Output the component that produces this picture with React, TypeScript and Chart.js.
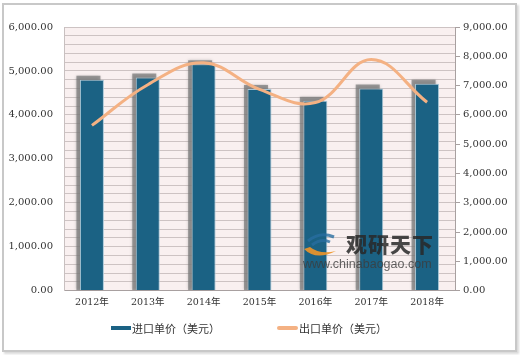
import React, { useEffect, useRef } from "react";
import { Chart, registerables } from "chart.js";

Chart.register(...registerables);

const categories = ["2012年", "2013年", "2014年", "2015年", "2016年", "2017年", "2018年"];
const importPrice = [4800, 4850, 5150, 4590, 4320, 4600, 4710];
const exportPrice = [5640, 7030, 7780, 6870, 6420, 7890, 6430];
const importLabel = "进口单价（美元）";
const exportLabel = "出口单价（美元）";

const BAR_COLOR = "#1B6284";
const LINE_COLOR = "#F4B183";

const fmt = (v: number) =>
  v.toLocaleString("en-US", { minimumFractionDigits: 2, maximumFractionDigits: 2 });

const TICK_FONT = "'DejaVu Serif', 'Noto Sans CJK SC', serif";

export default function App() {
  const ref = useRef<HTMLCanvasElement | null>(null);

  useEffect(() => {
    document.body.style.margin = "0";
    const canvas = ref.current!;
    const bgPlugin = {
      id: "plotBg",
      beforeDraw(chart: any) {
        const { ctx, chartArea } = chart;
        ctx.save();
        ctx.fillStyle = "#F9F0F0";
        ctx.fillRect(chartArea.left, chartArea.top, chartArea.right - chartArea.left, chartArea.bottom - chartArea.top);
        ctx.restore();
      },
    };
    const shadowPlugin = {
      id: "barShadow",
      beforeDatasetsDraw(chart: any) {
        const { ctx, chartArea } = chart;
        const meta = chart.getDatasetMeta(0);
        ctx.save();
        ctx.beginPath();
        ctx.rect(chartArea.left, chartArea.top, chartArea.right - chartArea.left, chartArea.bottom - chartArea.top);
        ctx.clip();
        ctx.fillStyle = "rgba(120,120,120,0.7)";
        ctx.shadowColor = "rgba(120,120,120,0.8)";
        ctx.shadowBlur = 3;
        meta.data.forEach((el: any) => {
          const p = el.getProps(["x", "y", "base", "width"], true);
          ctx.fillRect(p.x - p.width / 2 - 3.5, p.y - 4, p.width, p.base - p.y + 4);
        });
        ctx.restore();
      },
    };

    const chart = new Chart(canvas, {
      data: {
        labels: categories,
        datasets: [
          {
            type: "bar",
            label: importLabel,
            data: importPrice,
            backgroundColor: BAR_COLOR,
            borderColor: "#A9C8D8",
            borderWidth: 1,
            categoryPercentage: 1,
            barPercentage: 0.43,
            yAxisID: "y",
            order: 2,
          },
          {
            type: "line",
            label: exportLabel,
            data: exportPrice,
            borderColor: LINE_COLOR,
            backgroundColor: LINE_COLOR,
            borderWidth: 3,
            pointRadius: 0,
            tension: 0.4,
            yAxisID: "y1",
            order: 1,
          },
        ],
      } as any,
      options: {
        animation: false,
        responsive: false,
        maintainAspectRatio: false,
        layout: { padding: { top: 27, left: 0, right: 0, bottom: 41 } },
        plugins: {
          tooltip: { enabled: false },
          legend: { display: false },
        },
        scales: {
          x: {
            offset: true,
            grid: { display: false, drawTicks: false },
            border: { color: "#A8A0A0" },
            ticks: { color: "#333", font: { family: TICK_FONT, size: 9.5 }, padding: 6 },
          },
          y: {
            position: "left",
            min: 0,
            max: 6000,
            afterFit: (s: any) => { s.width = 64; },
            ticks: {
              stepSize: 200,
              autoSkip: false,
              color: "#333",
              font: { family: TICK_FONT, size: 10 },
              padding: 11,
              callback: (v: any) => (Number(v) % 1000 === 0 ? fmt(Number(v)) : ""),
            },
            grid: { color: "#CDC3C3", drawTicks: false },
            border: { color: "#C8C0C0" },
          },
          y1: {
            position: "right",
            min: 0,
            max: 9000,
            afterFit: (s: any) => { s.width = 65; },
            ticks: {
              stepSize: 1000,
              color: "#333",
              font: { family: TICK_FONT, size: 10 },
              padding: 3,
              callback: (v: any) => fmt(Number(v)),
            },
            grid: { drawOnChartArea: false, drawTicks: true, tickLength: 5, color: "#A8A0A0" },
            border: { color: "#A8A0A0" },
          },
        },
      } as any,
      plugins: [bgPlugin, shadowPlugin],
    });
    return () => chart.destroy();
  }, []);

  const legendText: React.CSSProperties = {
    position: "absolute",
    top: 320,
    fontFamily: "'Noto Sans CJK SC', sans-serif",
    fontSize: 11,
    color: "#333",
    lineHeight: "16px",
    whiteSpace: "nowrap",
  };

  return (
    <div style={{ position: "relative", width: 520, height: 355, background: "#fff" }}>
      <canvas ref={ref} width={520} height={355} style={{ display: "block" }} />
      <div
        style={{
          position: "absolute",
          left: 2,
          top: 3,
          width: 511,
          height: 345,
          border: "2px solid #C8C8C8",
          boxShadow: "2px 2px 2px rgba(0,0,0,0.15)",
          pointerEvents: "none",
        }}
      />
      <div style={{ position: "absolute", left: 111, top: 326, width: 20, height: 4, background: BAR_COLOR }} />
      <div style={{ ...legendText, left: 132 }}>{importLabel}</div>
      <div style={{ position: "absolute", left: 277, top: 326, width: 21, height: 4, background: LINE_COLOR, borderRadius: 2 }} />
      <div style={{ ...legendText, left: 299 }}>{exportLabel}</div>
      <svg style={{ position: "absolute", left: 302, top: 231, pointerEvents: "none" }} width="38" height="30" viewBox="0 0 38 30">
        <path d="M6 10 Q18 0 32 6" stroke="rgba(40,110,160,0.8)" strokeWidth="3" fill="none" />
        <path d="M10 14 Q19 7 28 11" stroke="rgba(40,110,160,0.8)" strokeWidth="3" fill="none" />
        <path d="M2 18 Q14 30 34 20 Q18 24 8 16 Z" fill="rgba(240,150,40,0.9)" />
      </svg>
      <div
        style={{
          position: "absolute",
          left: 346,
          top: 228,
          fontFamily: "'Noto Sans CJK SC', sans-serif",
          fontWeight: 900,
          fontSize: 21,
          color: "rgba(40,40,40,0.85)",
          letterSpacing: 1,
          pointerEvents: "none",
        }}
      >
        观研天下
      </div>
      <div
        style={{
          position: "absolute",
          left: 303,
          top: 257,
          fontFamily: "Arial, 'Liberation Sans', sans-serif",
          fontSize: 12.5,
          color: "rgba(60,60,60,0.8)",
          pointerEvents: "none",
        }}
      >
        www.chinabaogao.com
      </div>
    </div>
  );
}
